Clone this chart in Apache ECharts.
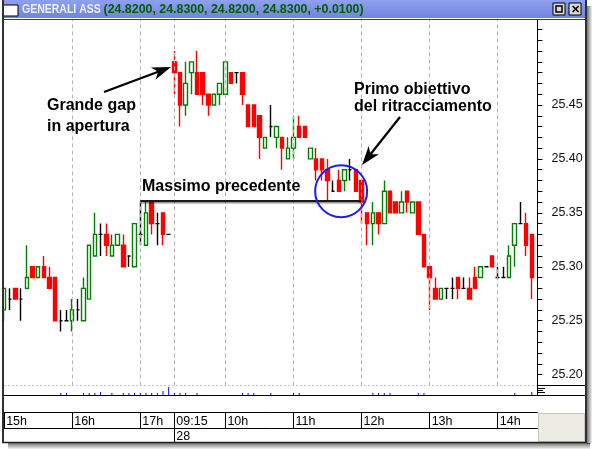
<!DOCTYPE html>
<html><head><meta charset="utf-8">
<script src="https://cdn.jsdelivr.net/npm/echarts@6/dist/echarts.min.js"></script>
<style>html,body{margin:0;padding:0;background:#fff;}#c{width:592px;height:449px;}</style>
</head><body><div id="c"></div>
<script>
// ---- data ----
const categories = [
 '15:00','15:05','15:10','15:15','15:20','15:25','15:30','15:35','15:40','15:45','15:50','15:55',
 '16:00','16:05','16:10','16:15','16:20','16:25','16:30','16:35','16:40','16:45','16:50','16:55',
 '17:00','17:05','17:10','17:15','17:20','17:25',
 '09:15','09:20','09:25','09:30','09:35','09:40','09:45','09:50','09:55',
 '10:00','10:05','10:10','10:15','10:20','10:25','10:30','10:35','10:40','10:45','10:50','10:55',
 '11:00','11:05','11:10','11:15','11:20','11:25','11:30','11:35','11:40','11:45','11:50','11:55',
 '12:00','12:05','12:10','12:15','12:20','12:25','12:30','12:35','12:40','12:45','12:50','12:55',
 '13:00','13:05','13:10','13:15','13:20','13:25','13:30','13:35','13:40','13:45','13:50','13:55',
 '14:00','14:05','14:10','14:15','14:20','14:25','14:30','14:35'
];
const opens = [25.26,25.27,25.28,25.27,25.28,25.30,25.29,25.30,25.29,25.29,
 25.25,25.25,25.25,25.26,25.25,25.27,25.31,25.33,25.33,25.31,
 25.32,25.32,25.31,25.30,25.33,25.32,25.36,25.34,25.35,25.33,
 25.49,25.48,25.45,25.48,25.48,25.48,25.46,25.45,25.46,25.46,
 25.48,25.48,25.48,25.45,25.45,25.44,25.41,25.43,25.42,25.42,
 25.40,25.41,25.43,25.43,25.40,25.40,25.40,25.39,25.37,25.38,
 25.38,25.39,25.39,25.38,25.35,25.34,25.35,25.34,25.37,25.36,
 25.35,25.37,25.35,25.36,25.33,25.30,25.28,25.27,25.28,25.28,
 25.29,25.28,25.28,25.29,25.29,25.30,25.31,25.29,25.29,25.29,
 25.32,25.34,25.34,25.33];
const closes = [25.28,25.27,25.27,25.27,25.29,25.29,25.30,25.29,25.28,25.25,
 25.25,25.25,25.26,25.26,25.28,25.32,25.33,25.33,25.32,25.32,
 25.33,25.30,25.31,25.34,25.33,25.35,25.34,25.34,25.33,25.33,
 25.48,25.45,25.47,25.49,25.46,25.46,25.45,25.46,25.47,25.49,
 25.47,25.48,25.46,25.43,25.43,25.42,25.42,25.43,25.43,25.41,
 25.41,25.42,25.42,25.42,25.41,25.39,25.39,25.38,25.37,25.37,
 25.39,25.39,25.37,25.36,25.34,25.35,25.34,25.37,25.35,25.35,
 25.36,25.36,25.36,25.33,25.30,25.29,25.27,25.28,25.28,25.28,
 25.28,25.28,25.27,25.28,25.30,25.30,25.30,25.29,25.29,25.31,
 25.34,25.34,25.32,25.29];
const lows = [25.25,25.26,25.27,25.25,25.28,25.29,25.29,25.29,25.28,25.25,
 25.24,25.25,25.24,25.25,25.25,25.27,25.31,25.31,25.31,25.31,
 25.32,25.30,25.30,25.30,25.32,25.32,25.33,25.32,25.32,25.33,
 25.46,25.43,25.44,25.46,25.46,25.45,25.44,25.45,25.45,25.46,
 25.47,25.47,25.45,25.43,25.43,25.40,25.41,25.42,25.41,25.39,
 25.40,25.40,25.42,25.42,25.40,25.38,25.38,25.36,25.37,25.37,
 25.37,25.38,25.37,25.34,25.32,25.32,25.33,25.34,25.35,25.35,
 25.35,25.35,25.35,25.33,25.30,25.26,25.27,25.27,25.27,25.27,
 25.27,25.28,25.27,25.28,25.29,25.30,25.30,25.29,25.29,25.29,
 25.30,25.34,25.31,25.27];
const highs = [25.28,25.28,25.28,25.28,25.32,25.30,25.30,25.31,25.30,25.29,
 25.26,25.26,25.27,25.27,25.29,25.32,25.35,25.34,25.34,25.33,
 25.33,25.33,25.31,25.34,25.36,25.36,25.36,25.35,25.35,25.33,
 25.50,25.48,25.49,25.49,25.50,25.48,25.46,25.46,25.47,25.49,
 25.48,25.48,25.48,25.45,25.45,25.44,25.42,25.45,25.43,25.42,
 25.42,25.44,25.44,25.43,25.41,25.41,25.40,25.40,25.38,25.39,
 25.39,25.40,25.39,25.38,25.35,25.36,25.35,25.38,25.37,25.36,
 25.37,25.37,25.36,25.36,25.33,25.30,25.29,25.28,25.28,25.29,
 25.29,25.29,25.29,25.30,25.30,25.30,25.31,25.30,25.30,25.32,
 25.34,25.36,25.35,25.33];
const volumes = [0,0,0,0,0,0,0,0,0,0,
 2,2,0,0,2,2,2,3,0,2,
 0,2,2,2,2,2,2,2,4,8,
 2,2,2,0,2,0,0,0,0,0,
 0,0,2,2,2,0,0,2,0,0,
 0,2,2,0,0,0,0,0,0,0,
 0,0,0,0,0,2,2,2,2,0,
 0,0,0,2,2,0,0,0,0,0,
 0,0,0,0,0,0,0,0,0,0,
 2,0,0,3];
const hourIdx = [0,12,24,30,39,51,63,75,87];
const hourLabels = ['15h','16h','17h','09:15','10h','11h','12h','13h','14h'];
const dayIdx = 30, dayLabel = '28';
const yLabelValues = [25.20,25.25,25.30,25.35,25.40,25.45];
const resistance = 25.361;           // "Massimo precedente"
const resistanceFrom = '17:00', resistanceTo = '12:00';
const circleAt = [59.4, 25.370];     // "Primo obiettivo" circle (category position, price)

// ---- chart ----
const FONT = '"Liberation Sans", Arial, sans-serif';
const chart = echarts.init(document.getElementById('c'));
const candleData = opens.map((o,i)=>[o, closes[i], lows[i], highs[i]]);
const GL = 4.14, GW = 533.3;

const option = {
  animation: false,
  backgroundColor: '#ffffff',
  grid: [
    {left: GL, width: GW, top: 18.7, height: 366.7, outerBoundsMode: 'none'},
    {left: GL, width: GW, top: 386, height: 9, outerBoundsMode: 'none'}
  ],
  xAxis: [
    {type:'category', gridIndex:0, data:categories, boundaryGap:false,
     axisLine:{show:false}, axisTick:{show:false}, axisLabel:{show:false}, splitLine:{show:false}},
    {type:'category', gridIndex:1, data:categories, boundaryGap:false,
     axisLine:{show:false}, axisTick:{show:false}, axisLabel:{show:false}, splitLine:{show:false}},
    {type:'category', gridIndex:1, data:categories, boundaryGap:false, position:'bottom', offset:17,
     axisLine:{show:true, lineStyle:{color:'#000', width:1}},
     axisTick:{show:true, length:16, interval:(i)=>hourIdx.includes(i), lineStyle:{color:'#000', width:1}},
     axisLabel:{show:true, interval:(i)=>hourIdx.includes(i), formatter:(v,i)=>hourLabels[hourIdx.indexOf(i)] || '',
       align:'left', verticalAlign:'top', padding:[0,0,0,2], margin:3, fontSize:12.5, fontFamily:FONT, color:'#000'},
     splitLine:{show:false}},
    {type:'category', gridIndex:1, data:categories, boundaryGap:false, position:'bottom', offset:33,
     axisLine:{show:true, lineStyle:{color:'#000', width:1}},
     axisTick:{show:true, length:14, interval:(i)=>i===dayIdx, lineStyle:{color:'#000', width:1}},
     axisLabel:{show:true, interval:(i)=>i===dayIdx, formatter:()=>dayLabel,
       align:'left', verticalAlign:'top', padding:[0,0,0,2], margin:2, fontSize:12.5, fontFamily:FONT, color:'#000'},
     splitLine:{show:false}},
    {type:'category', gridIndex:1, data:categories, boundaryGap:false, position:'bottom', offset:47,
     axisLine:{show:true, lineStyle:{color:'#000', width:1}},
     axisTick:{show:false}, axisLabel:{show:false}, splitLine:{show:false}}
  ],
  yAxis: [
    {type:'value', gridIndex:0, position:'right', min:25.19, max:25.53, interval:0.01, scale:true,
     axisLine:{show:true, lineStyle:{color:'#000', width:1}},
     axisTick:{show:true, length:5, lineStyle:{color:'#000', width:1}},
     axisLabel:{show:true, margin:14, fontSize:12.5, fontFamily:FONT, color:'#111',
       formatter:(v)=>{const k=Math.round(v*100); return yLabelValues.some(t=>Math.round(t*100)===k) ? (k/100).toFixed(2) : '';}},
     splitLine:{show:false}},
    {type:'value', gridIndex:1, position:'right', min:0, max:9,
     axisLine:{show:true, lineStyle:{color:'#000', width:1}},
     axisTick:{show:false}, axisLabel:{show:false}, splitLine:{show:false}}
  ],
  series: [
    {type:'candlestick', xAxisIndex:0, yAxisIndex:0, data:candleData, barWidth:4, clip:false,
     itemStyle:{color:'#ffffff', color0:'#ff0000', borderColor:'#008000', borderColor0:'#ff0000',
       borderColorDoji:'#000000', borderWidth:1.4},
     markLine:{silent:true, symbol:'none', animation:false, label:{show:false},
       data:[
         ...hourIdx.slice(1).map(i=>({xAxis:categories[i], lineStyle:{color:'#b4b4b4', type:[4,3], width:1}})),
         [{coord:[resistanceFrom, resistance], lineStyle:{color:'#1a1a1a', width:2, type:'solid',
            shadowColor:'rgba(0,0,0,0.45)', shadowBlur:1, shadowOffsetY:1.5}},
          {coord:[resistanceTo, resistance]}]
       ]}},
    {type:'bar', xAxisIndex:1, yAxisIndex:1, data:volumes, barWidth:1, itemStyle:{color:'#0000ff'}}
  ]
};
chart.setOption(option);

// ---- frame & annotations ----
function arrow(x1,y1,x2,y2,len,w){
  const dx=x2-x1, dy=y2-y1, d=Math.hypot(dx,dy), ux=dx/d, uy=dy/d, px=-uy, py=ux;
  const bx=x2-ux*len, by=y2-uy*len, nx=x2-ux*len*0.72, ny=y2-uy*len*0.72;
  return [
    {type:'line', z:120, shape:{x1:x1,y1:y1,x2:nx,y2:ny}, style:{stroke:'#000', lineWidth:2.2}},
    {type:'polygon', z:121, shape:{points:[[x2,y2],[bx+px*w/2,by+py*w/2],[nx,ny],[bx-px*w/2,by-py*w/2]]}, style:{fill:'#000'}}
  ];
}
const i0 = Math.floor(circleAt[0]), f = circleAt[0]-i0;
const pA = chart.convertToPixel({xAxisIndex:0, yAxisIndex:0}, [categories[i0], circleAt[1]]);
const pB = chart.convertToPixel({xAxisIndex:0, yAxisIndex:0}, [categories[i0+1], circleAt[1]]);
const cc = [pA[0] + (pB[0]-pA[0])*f, pA[1]];
const txt = (x,y,t)=>({type:'text', z:120, x:x, y:y, style:{text:t, fill:'#000', font:'bold 16px '+FONT, textVerticalAlign:'middle'}});
const graphics = [
  // shadows
  {type:'rect', z:90, shape:{x:8,y:443,width:582,height:6}, style:{fill:new echarts.graphic.LinearGradient(0,0,0,1,[{offset:0,color:'rgba(0,0,0,0.55)'},{offset:1,color:'rgba(0,0,0,0.05)'}])}},
  {type:'rect', z:90, shape:{x:587,y:6,width:5,height:438}, style:{fill:new echarts.graphic.LinearGradient(0,0,1,0,[{offset:0,color:'rgba(0,0,0,0.55)'},{offset:1,color:'rgba(0,0,0,0.05)'}])}},
  // title bar
  {type:'rect', z:100, shape:{x:0,y:0,width:587,height:18}, style:{fill:new echarts.graphic.LinearGradient(0,0,0,1,[{offset:0,color:'#8fa0ee'},{offset:1,color:'#6f84dc'}])}},
  {type:'rect', z:101, shape:{x:3,y:5,width:15,height:11}, style:{fill:'#fff', stroke:'#000', lineWidth:1}},
  {type:'text', z:101, x:22, y:9.5, scaleX:0.84, style:{text:'GENERALI ASS', fill:'#eef0ff', font:'bold 12.5px '+FONT, textVerticalAlign:'middle'}},
  {type:'text', z:101, x:103.5, y:9.5, style:{text:'(24.8200, 24.8300, 24.8200, 24.8300, +0.0100)', fill:'#006000', font:'bold 12.4px '+FONT, textVerticalAlign:'middle'}},
  {type:'rect', z:101, shape:{x:553,y:3,width:12,height:12}, style:{fill:'#d8d8d8', stroke:'#000', lineWidth:1}},
  {type:'rect', z:102, shape:{x:556,y:6,width:6,height:6}, style:{fill:'none', stroke:'#000', lineWidth:1.5}},
  {type:'rect', z:101, shape:{x:569,y:3,width:12,height:12}, style:{fill:'#d8d8d8', stroke:'#000', lineWidth:1}},
  {type:'text', z:102, x:575, y:9.5, style:{text:'✕', fill:'#000', font:'bold 11px '+FONT, textAlign:'center', textVerticalAlign:'middle'}},
  // borders
  {type:'line', z:100, shape:{x1:0,y1:18.5,x2:587,y2:18.5}, style:{stroke:'#fff', lineWidth:1}},
  {type:'line', z:100, shape:{x1:0,y1:19.5,x2:587,y2:19.5}, style:{stroke:'#404040', lineWidth:1}},
  {type:'rect', z:100, shape:{x:0,y:0,width:3,height:443}, style:{fill:'#ffffff'}},
  {type:'line', z:101, shape:{x1:3,y1:0,x2:3,y2:443}, style:{stroke:'#303030', lineWidth:2}},
  {type:'line', z:101, shape:{x1:586,y1:0,x2:586,y2:443}, style:{stroke:'#303030', lineWidth:2}},
  {type:'line', z:101, shape:{x1:2,y1:442.5,x2:587,y2:442.5}, style:{stroke:'#202020', lineWidth:1.5}},
  {type:'line', z:99, shape:{x1:3,y1:395.5,x2:586,y2:395.5}, style:{stroke:'#000', lineWidth:1}},
  {type:'line', z:99, shape:{x1:4,y1:385.5,x2:537,y2:385.5}, style:{stroke:'#c8c8c8', lineWidth:1, lineDash:[2,2]}},
  {type:'line', z:99, shape:{x1:537,y1:385.5,x2:586,y2:385.5}, style:{stroke:'#000', lineWidth:1}},
  // small ≡ icon
  {type:'line', z:99, shape:{x1:538,y1:388.5,x2:545,y2:388.5}, style:{stroke:'#000', lineWidth:1}},
  {type:'line', z:99, shape:{x1:538,y1:390.5,x2:543,y2:390.5}, style:{stroke:'#000', lineWidth:1}},
  {type:'line', z:99, shape:{x1:538,y1:392.5,x2:545,y2:392.5}, style:{stroke:'#000', lineWidth:1}},
  // bottom-right panel
  {type:'rect', z:99, shape:{x:538.5,y:413.5,width:46,height:28}, style:{fill:'#ebebe2', stroke:'#c8c8c0', lineWidth:1}},
  // annotations
  txt(47,106,'Grande gap'), txt(47,127,'in apertura'),
  txt(142,187,'Massimo precedente'),
  txt(354,90,'Primo obiettivo'), txt(354,107,'del ritracciamento'),
  ...arrow(104,92,171,67,19,13),
  ...arrow(400,117,362,165,19,13),
  {type:'circle', z:115, shape:{cx:cc[0], cy:cc[1], r:26}, style:{fill:'none', stroke:'#1c1cf0', lineWidth:2}}
];
chart.setOption({graphic: graphics});
</script></body></html>
